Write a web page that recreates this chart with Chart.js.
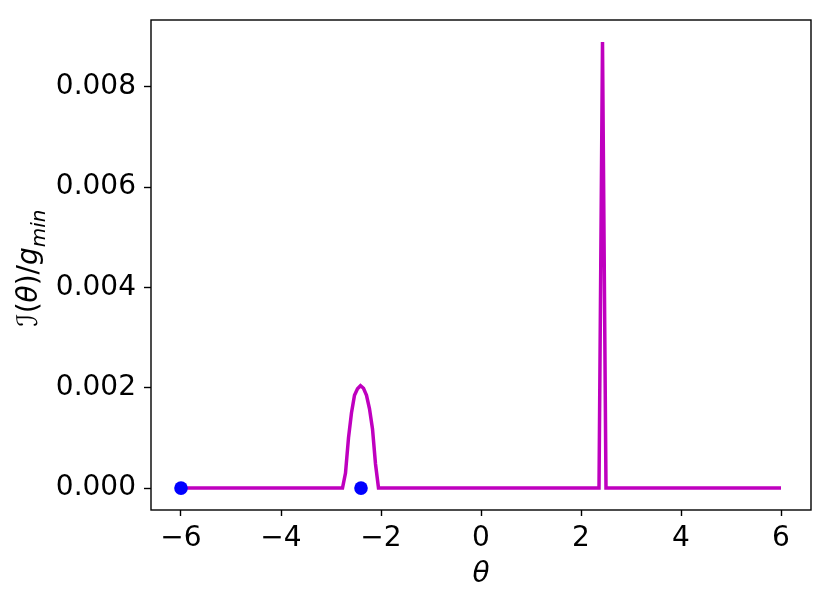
<!DOCTYPE html>
<html>
<head>
<meta charset="utf-8">
<script src="https://cdn.jsdelivr.net/npm/chart.js@4"></script>
<style>
  html, body { margin: 0; padding: 0; background: #fff; }
  canvas { display: block; }
</style>
</head>
<body>
<canvas id="chart" width="830" height="605"></canvas>
<script>
// intensity curve
const thetaValues = [-6, -2.77, -2.71, -2.65, -2.59, -2.53, -2.47, -2.41, -2.35, -2.29, -2.23, -2.17, -2.11, -2.05, 2.36, 2.43, 2.50, 6];
const intensityValues = [0, 0, 0.0003, 0.0010, 0.0015, 0.00185, 0.00198, 0.00204, 0.00199, 0.00185, 0.00158, 0.00118, 0.00048, 0, 0, 0.00889, 0, 0];

// blue markers
const markerTheta = [-6, -2.4];
const markerValues = [0, 0];

const xTicks = [-6, -4, -2, 0, 2, 4, 6];
const yTicks = [0, 0.002, 0.004, 0.006, 0.008];

const FONT = "'DejaVu Sans', sans-serif";

function toPoints(xs, ys) {
    return xs.map((x, i) => ({ x: x, y: ys[i] }));
}

// frame on all four sides + y label with subscript
const framePlugin = {
    id: 'frame',
    afterDraw(chart) {
        const { ctx, chartArea } = chart;
        ctx.save();
        ctx.strokeStyle = '#000';
        ctx.lineWidth = 1.4;
        ctx.strokeRect(chartArea.left, chartArea.top, chartArea.right - chartArea.left, chartArea.bottom - chartArea.top);

        // y axis label: I(θ)/g_min
        const big = 28, small = 20;
        const parts = [
            { t: '\u2110', font: `${big}px ${FONT}`, dy: 0 },
            { t: '(', font: `${big}px ${FONT}`, dy: 0 },
            { t: 'θ', font: `italic ${big}px ${FONT}`, dy: 0 },
            { t: ')', font: `${big}px ${FONT}`, dy: 0 },
            { t: '/', font: `${big}px ${FONT}`, dy: 0 },
            { t: 'g', font: `italic ${big}px ${FONT}`, dy: 0 },
            { t: 'min', font: `italic ${small}px ${FONT}`, dy: 8 }
        ];
        let total = 0;
        parts.forEach(p => { ctx.font = p.font; p.w = ctx.measureText(p.t).width; total += p.w; });
        ctx.translate(37, 268);
        ctx.rotate(-Math.PI / 2);
        ctx.fillStyle = '#000';
        ctx.textBaseline = 'alphabetic';
        ctx.textAlign = 'left';
        let u = -total / 2;
        parts.forEach(p => {
            ctx.font = p.font;
            ctx.fillText(p.t, u, p.dy);
            u += p.w;
        });
        ctx.restore();
    }
};

const ctx = document.getElementById('chart').getContext('2d');
new Chart(ctx, {
    type: 'scatter',
    data: {
        datasets: [
            {
                label: 'markers',
                data: toPoints(markerTheta, markerValues),
                backgroundColor: '#0000ff',
                borderColor: '#0000ff',
                pointRadius: 6.8,
                pointBorderWidth: 0,
                showLine: false,
                order: 0
            },
            {
                label: 'intensity',
                data: toPoints(thetaValues, intensityValues),
                borderColor: '#bf00bf',
                backgroundColor: '#bf00bf',
                borderWidth: 3.5,
                pointRadius: 0,
                showLine: true,
                tension: 0,
                order: 1
            }
        ]
    },
    options: {
        responsive: false,
        animation: false,
        devicePixelRatio: 1,
        layout: { padding: { top: 20, right: 19, left: 0, bottom: 0 } },
        plugins: {
            legend: { display: false },
            tooltip: { enabled: false }
        },
        scales: {
            x: {
                type: 'linear',
                min: -6.6,
                max: 6.6,
                afterFit: (axis) => {
                    axis.height = 95;
                    axis.paddingLeft = 0;
                    axis.paddingRight = 0;
                },
                afterBuildTicks: (axis) => { axis.ticks = xTicks.map(v => ({ value: v })); },
                border: { display: false },
                grid: { drawOnChartArea: false, tickLength: 6, tickWidth: 1.4, tickColor: '#000' },
                ticks: {
                    color: '#000',
                    padding: 6,
                    maxRotation: 0,
                    font: { family: FONT, size: 28 },
                    callback: (v) => String(v).replace('-', '\u2212')
                },
                title: {
                    display: true,
                    text: 'θ',
                    color: '#000',
                    font: { family: FONT, size: 28, style: 'italic' },
                    padding: { top: 0, bottom: 13 }
                }
            },
            y: {
                type: 'linear',
                min: -0.000437,
                max: 0.00933,
                afterFit: (axis) => {
                    axis.width = 151;
                    axis.paddingTop = 0;
                    axis.paddingBottom = 0;
                },
                afterBuildTicks: (axis) => { axis.ticks = yTicks.map(v => ({ value: v })); },
                border: { display: false },
                grid: { drawOnChartArea: false, tickLength: 7, tickWidth: 1.4, tickColor: '#000' },
                ticks: {
                    color: '#000',
                    padding: 8,
                    font: { family: FONT, size: 28 },
                    callback: (v) => v.toFixed(3)
                }
            }
        }
    },
    plugins: [framePlugin]
});
</script>
</body>
</html>
